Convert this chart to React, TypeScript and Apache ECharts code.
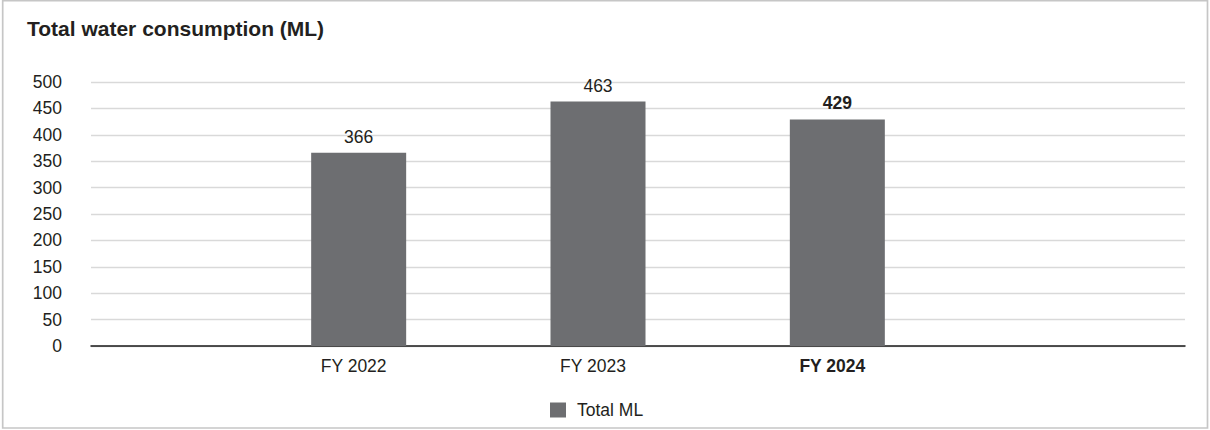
import React, { useEffect, useRef } from "react";
import * as echarts from "echarts";

const categories = ["FY 2022", "FY 2023", "FY 2024"];
const totalML = [366, 463, 429];
const yTicks = { min: 0, max: 500, interval: 50 };
const seriesName = "Total ML";
const titleText = "Total water consumption (ML)";

const FONT = "'Liberation Sans', Arial, Helvetica, sans-serif";
const TEXT = "#231f20";
const BAR = "#6d6e71";

export default function App() {
  const ref = useRef<HTMLDivElement>(null);
  useEffect(() => {
    if (!ref.current) return;
    const chart = echarts.init(ref.current, undefined, { renderer: "svg" });
    const last = categories.length - 1;
    chart.setOption({
      animation: false,
      backgroundColor: "#ffffff",
      textStyle: { fontFamily: FONT, color: TEXT },
      title: {
        text: titleText,
        left: 22,
        top: 13,
        textStyle: { fontFamily: FONT, fontSize: 21, fontWeight: "bold", color: TEXT },
      },
      legend: {
        data: [seriesName],
        left: 545,
        top: 396,
        itemWidth: 16,
        itemHeight: 15,
        icon: "rect",
        textStyle: { fontFamily: FONT, fontSize: 17.5, color: TEXT, padding: [0, 0, 0, 6] },
      },
      graphic: [
        {
          type: "rect",
          shape: { x: 2.7, y: 0.7, width: 1204.8, height: 427.3 },
          style: { fill: "none", stroke: "#c6c6c6", lineWidth: 1.7 },
          silent: true,
          z: 100,
        },
      ],
      grid: [
        { left: 91, right: 25, top: 82, bottom: 84 },
        { left: 239, right: 253, top: 82, bottom: 84 },
      ],
      xAxis: [
        {
          gridIndex: 0,
          type: "value",
          min: 0,
          max: 1,
          axisLine: { show: true, lineStyle: { color: "#1a1a1a", width: 1.5 } },
          axisTick: { show: false },
          axisLabel: { show: false },
          splitLine: { show: false },
        },
        {
          gridIndex: 1,
          type: "category",
          data: categories,
          axisLine: { show: false },
          axisTick: { show: false },
          axisLabel: {
            margin: 11,
            fontFamily: FONT,
            fontSize: 17.5,
            color: TEXT,
            padding: [0, 10, 0, 0],
            formatter: (v: string, i: number) => (i === last ? `{b|${v}}` : v),
            rich: { b: { fontWeight: "bold", fontFamily: FONT, fontSize: 17.5, color: TEXT } },
          },
        },
      ],
      yAxis: [
        {
          gridIndex: 0,
          type: "value",
          min: yTicks.min,
          max: yTicks.max,
          interval: yTicks.interval,
          axisLine: { show: false },
          axisTick: { show: false },
          axisLabel: { margin: 29, fontFamily: FONT, fontSize: 17.5, color: TEXT },
          splitLine: { lineStyle: { color: "#d9d9d9", width: 1.3 } },
        },
        {
          gridIndex: 1,
          type: "value",
          min: yTicks.min,
          max: yTicks.max,
          interval: yTicks.interval,
          show: false,
          splitLine: { show: false },
        },
      ],
      series: [
        {
          name: seriesName,
          type: "bar",
          xAxisIndex: 1,
          yAxisIndex: 1,
          barWidth: 95,
          itemStyle: { color: BAR },
          data: totalML,
          label: {
            show: true,
            position: "top",
            distance: 7,
            fontFamily: FONT,
            fontSize: 17.5,
            color: TEXT,
            formatter: (p: any) => (p.dataIndex === last ? `{b|${p.value}}` : `${p.value}`),
            rich: { b: { fontWeight: "bold", fontFamily: FONT, fontSize: 17.5, color: TEXT } },
          },
          z: 3,
        },
      ],
    });
    return () => chart.dispose();
  }, []);
  return (
    <div
      ref={ref}
      style={{ position: "absolute", left: 0, top: 0, width: 1210, height: 430 }}
    />
  );
}
